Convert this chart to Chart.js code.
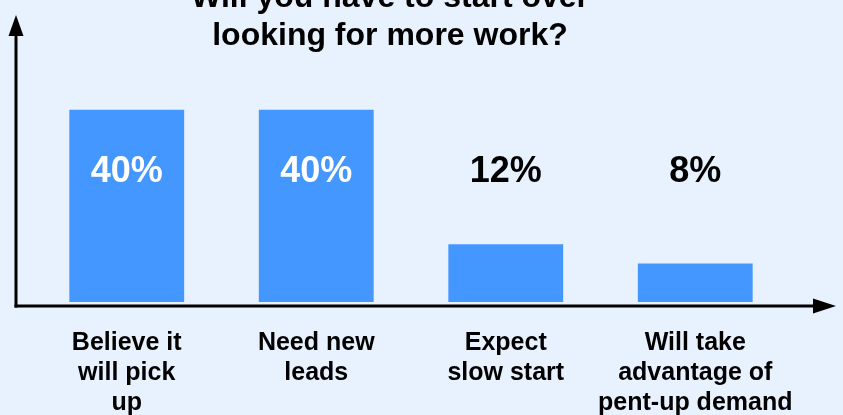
<!DOCTYPE html>
<html lang="en">
<head>
    <meta charset="UTF-8">
    <title>Will you have to start over looking for more work?</title>
    <style>
        * {
            margin: 0;
            padding: 0;
            box-sizing: border-box;
        }

        body {
            background: #e8f2fe;
            font-family: 'Liberation Sans', Arial, sans-serif;
            overflow: hidden;
        }

        .container {
            position: relative;
            width: 843px;
            height: 415px;
        }
    </style>
    <script src="https://cdn.jsdelivr.net/npm/chart.js"></script>
</head>
<body>
    <div class="container">
        <canvas id="grafico"></canvas>
    </div>
    <script>
        // dados
        const titulo = ['Will you have to start over', 'looking for more work?'];
        const categorias = [
            ['Believe it', 'will pick', 'up'],
            ['Need new', 'leads'],
            ['Expect', 'slow start'],
            ['Will take', 'advantage of', 'pent-up demand']
        ];
        const percentuais = [40, 40, 12, 8];
        const nivelRotulo = 27; // altura (em %) onde os rótulos ficam

        const corBarra = '#4497fe';
        const fonte = "'Liberation Sans', Arial, sans-serif";

        // eixos com setas
        const eixosComSeta = {
            id: 'eixosComSeta',
            afterDraw(chart) {
                const { ctx, chartArea } = chart;
                const x0 = chartArea.left - 16;
                const y0 = chartArea.bottom + 4;
                ctx.save();
                ctx.strokeStyle = '#000';
                ctx.fillStyle = '#000';
                ctx.lineWidth = 3;

                ctx.beginPath();
                ctx.moveTo(x0, y0 + 1.5);
                ctx.lineTo(x0, 34);
                ctx.stroke();
                ctx.beginPath();
                ctx.moveTo(x0, 15);
                ctx.lineTo(x0 - 7.5, 36);
                ctx.lineTo(x0 + 7.5, 36);
                ctx.closePath();
                ctx.fill();

                ctx.beginPath();
                ctx.moveTo(x0 - 1.5, y0);
                ctx.lineTo(815, y0);
                ctx.stroke();
                ctx.beginPath();
                ctx.moveTo(836, y0);
                ctx.lineTo(813, y0 - 7.5);
                ctx.lineTo(813, y0 + 7.5);
                ctx.closePath();
                ctx.fill();
                ctx.restore();
            }
        };

        // rótulos de valor
        const rotulos = {
            id: 'rotulos',
            afterDatasetsDraw(chart) {
                const { ctx } = chart;
                const meta = chart.getDatasetMeta(0);
                const y = chart.scales.y.getPixelForValue(nivelRotulo);
                ctx.save();
                ctx.font = 'bold 36px ' + fonte;
                ctx.textAlign = 'center';
                ctx.textBaseline = 'middle';
                meta.data.forEach((barra, i) => {
                    const v = percentuais[i];
                    ctx.fillStyle = v > nivelRotulo ? '#ffffff' : '#000000';
                    ctx.fillText(v + '%', barra.x, y);
                });
                ctx.restore();
            }
        };

        const ctx = document.getElementById('grafico').getContext('2d');
        new Chart(ctx, {
            type: 'bar',
            data: {
                labels: categorias,
                datasets: [{
                    data: percentuais,
                    backgroundColor: corBarra,
                    borderWidth: 0,
                    barPercentage: 0.606,
                    categoryPercentage: 1
                }]
            },
            options: {
                responsive: true,
                maintainAspectRatio: false,
                animation: false,
                layout: {
                    padding: { left: -10, right: 53, top: 0, bottom: -29 }
                },
                plugins: {
                    legend: { display: false },
                    tooltip: { enabled: false },
                    title: {
                        display: true,
                        text: titulo,
                        color: '#000',
                        font: { family: fonte, size: 32, weight: 'bold', lineHeight: 1.2 },
                        padding: { top: -21, bottom: 6 }
                    }
                },
                scales: {
                    x: {
                        grid: { display: false, drawTicks: false },
                        border: { display: false },
                        ticks: {
                            color: '#000',
                            padding: 26,
                            maxRotation: 0,
                            autoSkip: false,
                            font: { family: fonte, size: 25, weight: 'bold', lineHeight: 1.2 }
                        }
                    },
                    y: {
                        min: 0,
                        max: 50,
                        grid: { display: false, drawTicks: false },
                        border: { display: false },
                        ticks: { display: false },
                        afterFit(scale) {
                            scale.width = 42;
                        }
                    }
                }
            },
            plugins: [eixosComSeta, rotulos]
        });
    </script>
</body>
</html>
